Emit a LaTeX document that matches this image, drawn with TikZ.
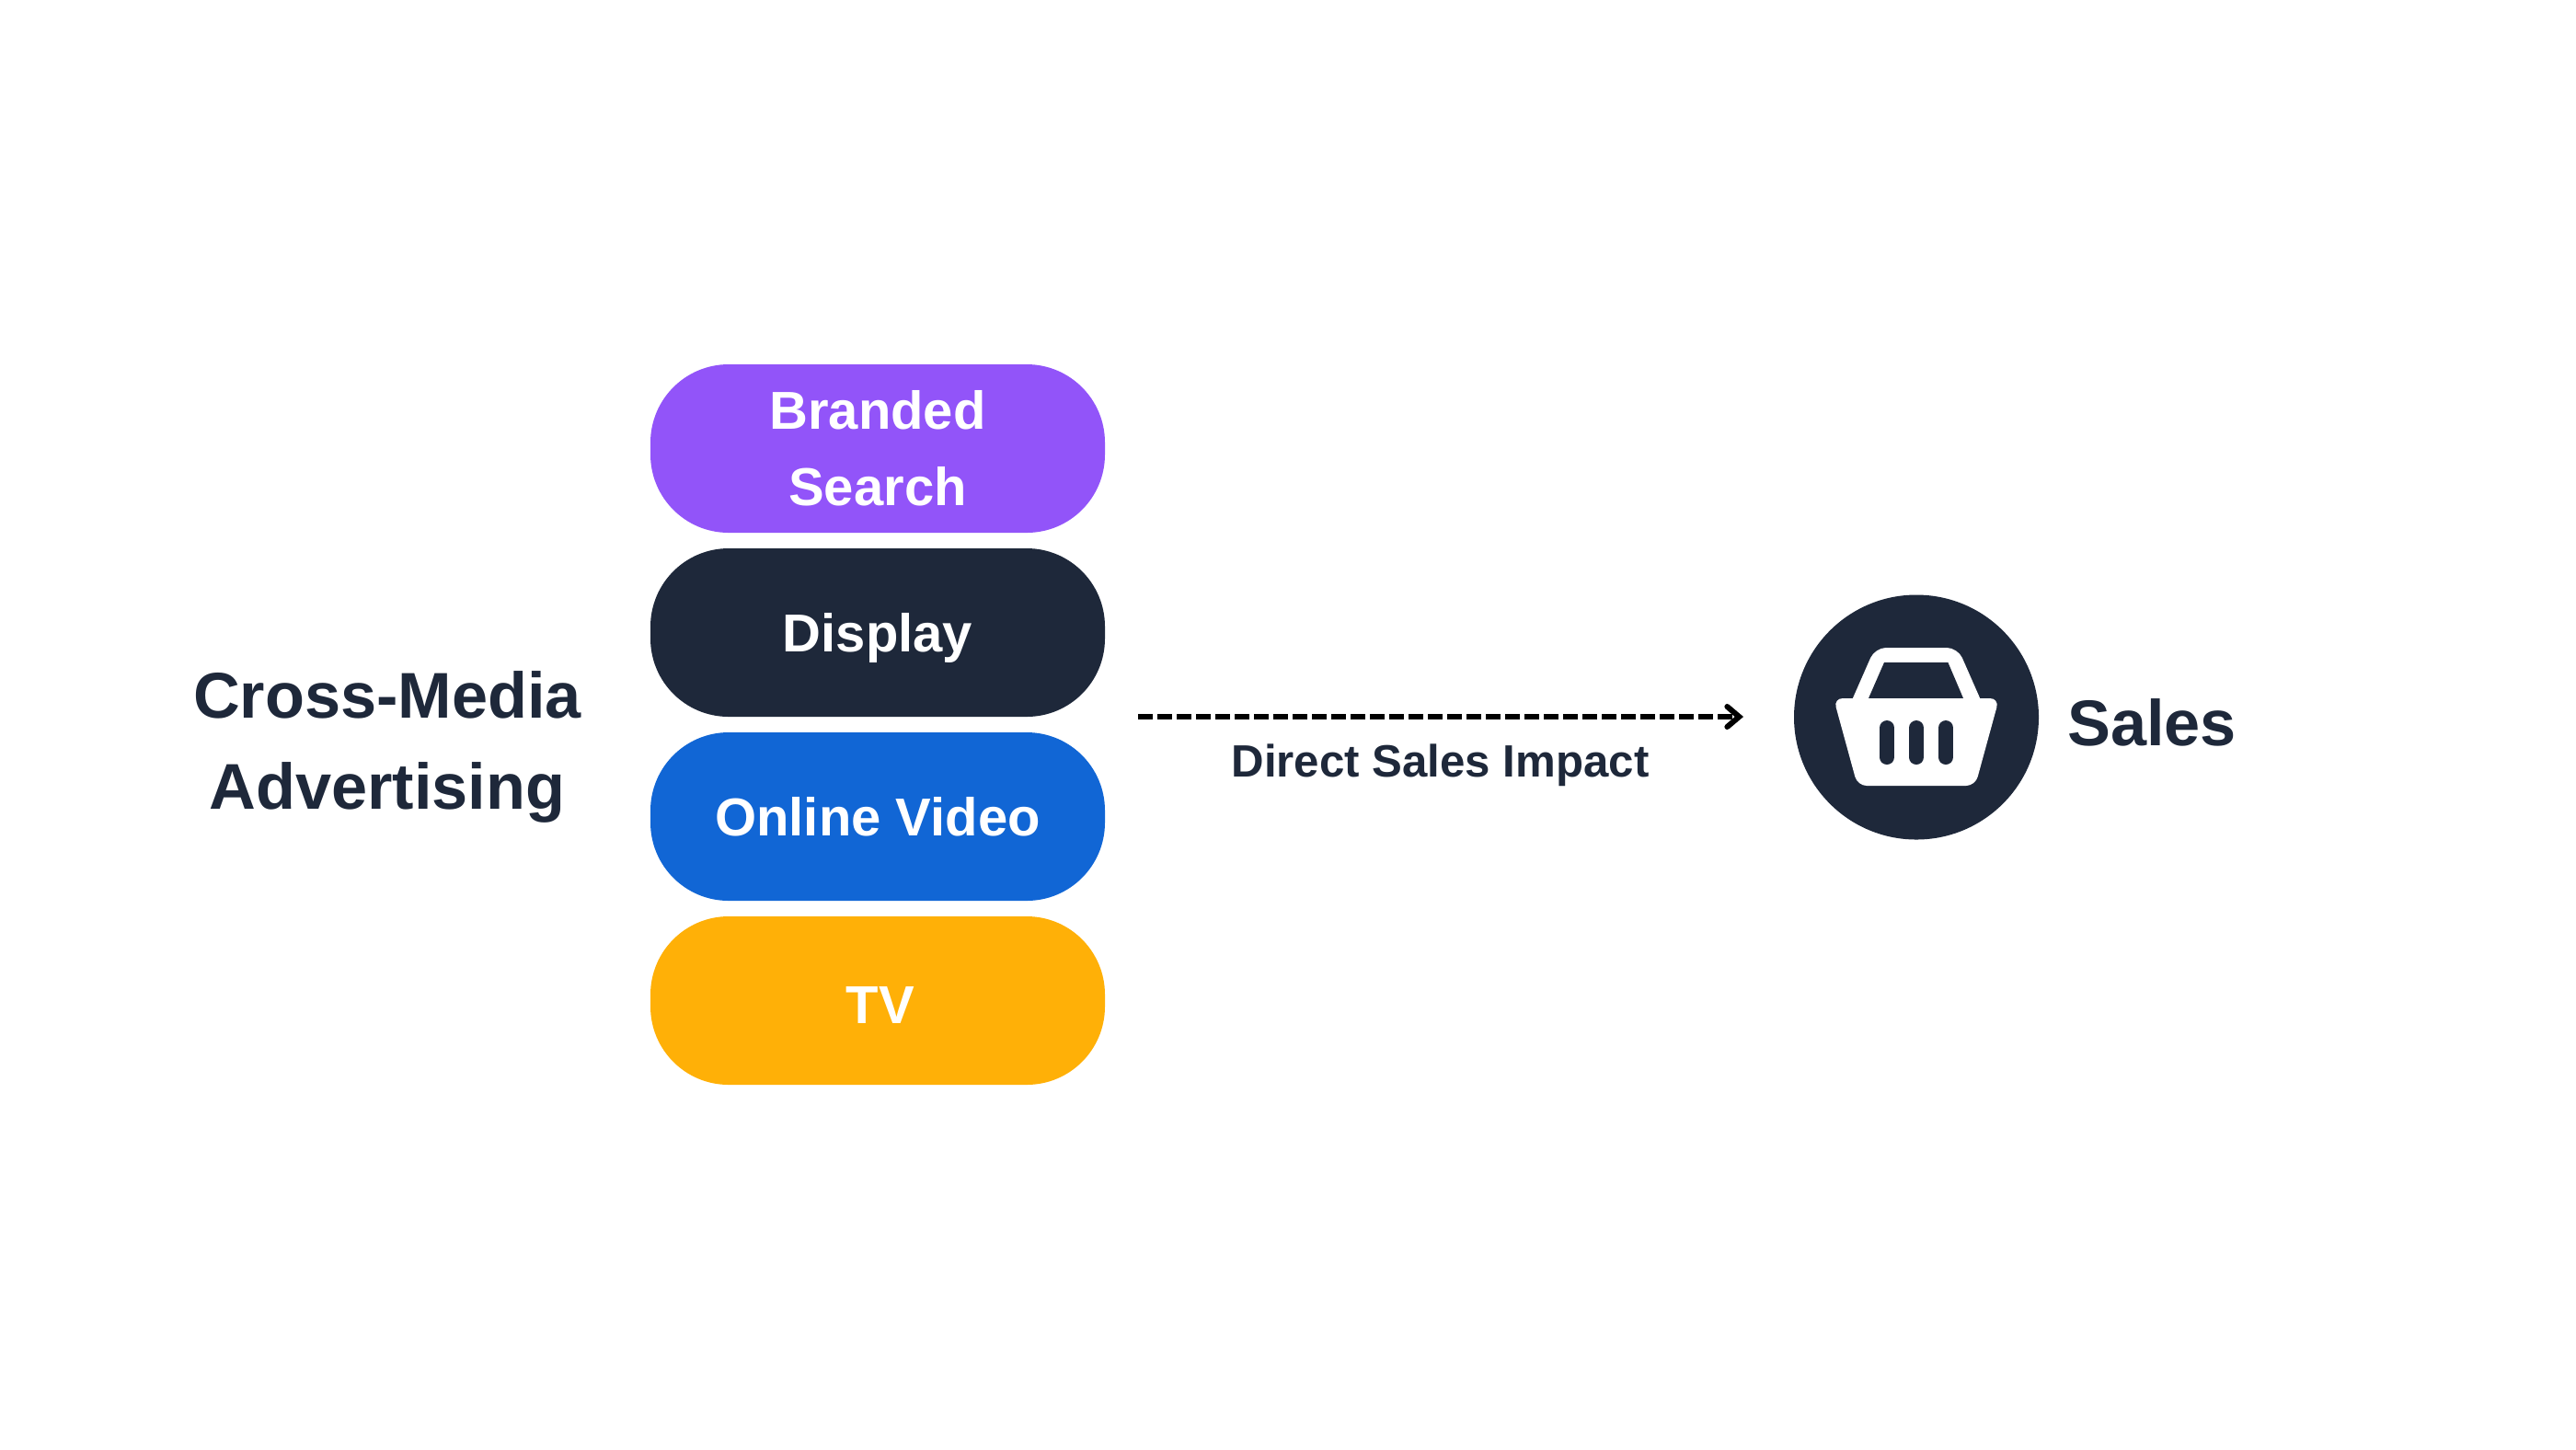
\documentclass[tikz,border=0pt]{standalone}
\usepackage{fontspec}
\setmainfont{Liberation Sans}
\usetikzlibrary{arrows.meta}
\definecolor{navy}{HTML}{1E283A}
\definecolor{brandpurple}{HTML}{9254F9}
\definecolor{videoblue}{HTML}{1166D5}
\definecolor{tvorange}{HTML}{FFB007}
\tikzset{
    pill/.style = {rounded corners = 0.85cm, minimum width = 4.94cm, minimum height = 1.83cm,
        inner sep = 0pt, text = white, align = center, text height = 0.41cm, text depth = 0pt,
        font = \fontsize{16.5}{23.6}\selectfont\bfseries},
    title/.style = {text = navy, inner sep = 0pt, font = \fontsize{20}{27.9}\selectfont\bfseries},
    impact/.style = {text = navy, inner sep = 0pt, font = \fontsize{14}{17}\selectfont\bfseries}
}
\begin{document}
\begin{tikzpicture}[y = -1cm]
        \useasboundingbox (0, 0) rectangle (28, 15.75);
        % channels
        \node[pill, fill = brandpurple, text height = 1.24cm] (search) at (9.54, 4.875) {Branded\\Search};
        \node[pill, fill = navy] (display) at (9.54, 6.875) {Display};
        \node[pill, fill = videoblue] (video) at (9.54, 8.875) {Online Video};
        \node[pill, fill = tvorange, text height = 0.49cm] (tv) at (9.54, 10.875) {\kern0.06cm TV};
        \node[title, align = center, text height = 1.47cm, text depth = 0pt] (media) at (4.21, 8.055) {Cross-Media\\Advertising};
        % arrow
        \coordinate (start) at (12.37, 7.79);
        \coordinate (end) at (18.95, 7.79);
        \draw[line width = 0.06cm, dash pattern = on 0.16cm off 0.05cm,
            -{Straight Barb[length = 0.13cm, width = 0.22cm, line cap = round]}] (start) -- (end);
        \node[impact, anchor = base] (direct) at (15.655, 8.44) {Direct Sales Impact};
        % basket
        \node[circle, fill = navy, minimum size = 2.66cm, inner sep = 0pt] (icon) at (20.83, 7.795) {};
        \fill[white, rounded corners = 0.12cm] (20.09, 7.70) -- (20.38, 7.04) -- (21.28, 7.04) -- (21.57, 7.70) -- cycle;
        \fill[navy] (20.48, 7.20) -- (21.174, 7.20) -- (21.34, 7.59) -- (20.31, 7.59) -- cycle;
        \fill[white, rounded corners = 0.1cm] (19.93, 7.59) -- (21.73, 7.59) -- (21.47, 8.54) -- (20.19, 8.54) -- cycle;
        \foreach \x in {20.51, 20.83, 21.15}
            \draw[navy, line width = 0.16cm, line cap = round] (\x, 7.91) -- (\x, 8.23);
        \node[title, anchor = base] (sales) at (23.39, 8.10) {Sales};
\end{tikzpicture}
\end{document}
